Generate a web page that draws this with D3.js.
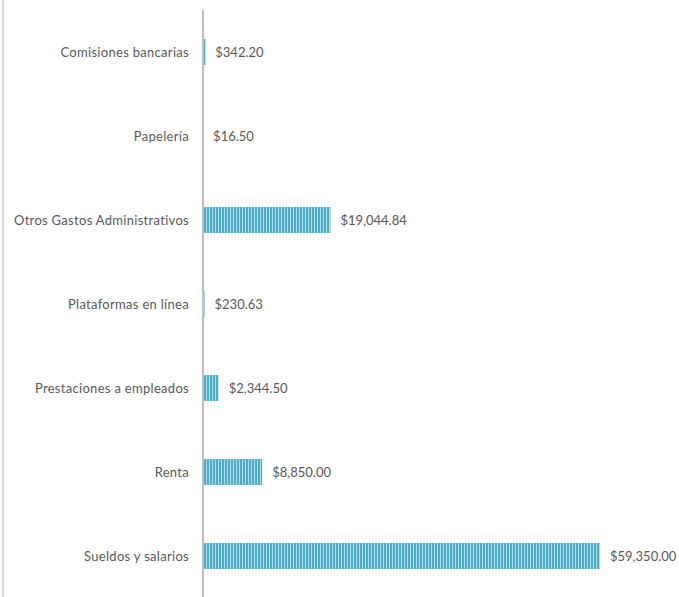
<!DOCTYPE html>
<html>
<head>
<meta charset="utf-8">
<script src="https://cdn.jsdelivr.net/npm/d3@7"></script>
<style>
  body { margin: 0; background: #fff; }
  text { font-family: Lato, "Open Sans", sans-serif; font-size: 13px; fill: #595959; }
  text.cat { letter-spacing: 0.3px; }
</style>
</head>
<body>
<div id="chart"></div>
<script>
var categories = ["Comisiones bancarias", "Papelería", "Otros Gastos Administrativos",
                  "Plataformas en línea", "Prestaciones a empleados", "Renta", "Sueldos y salarios"];
var values = [342.20, 16.50, 19044.84, 230.63, 2344.50, 8850.00, 59350.00];

var width = 679, height = 597,
    axisX = 203, marginTop = 10;

var svg = d3.select('#chart').append('svg')
    .attr('width', width)
    .attr('height', height);

// striped fill
var pat = svg.append('defs').append('pattern')
    .attr('id', 'stripes')
    .attr('patternUnits', 'userSpaceOnUse')
    .attr('width', 3)
    .attr('height', 10);
pat.append('rect').attr('width', 3).attr('height', 10).attr('fill', '#4bacc6');
pat.append('rect').attr('x', 2).attr('width', 1).attr('height', 10).attr('fill', '#b4dde9');

// outer frame edge
svg.append('line')
    .attr('x1', 3).attr('x2', 3).attr('y1', 0).attr('y2', height)
    .attr('stroke', '#d9d9d9').attr('stroke-width', 2);

var x = d3.scaleLinear()
    .domain([0, 59350])
    .range([axisX, 600]);

var y = d3.scaleBand()
    .domain(categories)
    .range([marginTop, marginTop + 84 * 7])
    .paddingInner(0.69)
    .paddingOuter(0.345);

var rows = svg.selectAll('g.row').data(categories)
    .enter().append('g').attr('class', 'row');

rows.append('rect')
    .attr('x', axisX)
    .attr('y', function (d) { return y(d); })
    .attr('width', function (d, i) { return x(values[i]) - axisX; })
    .attr('height', y.bandwidth())
    .attr('fill', 'url(#stripes)');

rows.append('text')
    .attr('class', 'cat')
    .attr('x', 189)
    .attr('y', function (d) { return y(d) + y.bandwidth() / 2; })
    .attr('dy', '0.35em')
    .attr('text-anchor', 'end')
    .text(function (d) { return d; });

var fmt = d3.format(',.2f');
rows.append('text')
    .attr('x', function (d, i) { return x(values[i]) + 10; })
    .attr('y', function (d) { return y(d) + y.bandwidth() / 2; })
    .attr('dy', '0.35em')
    .text(function (d, i) { return '$' + fmt(values[i]); });

// category axis line
svg.append('line')
    .attr('x1', axisX).attr('x2', axisX)
    .attr('y1', marginTop).attr('y2', height)
    .attr('stroke', '#bfbfbf').attr('stroke-width', 2);
</script>
</body>
</html>
